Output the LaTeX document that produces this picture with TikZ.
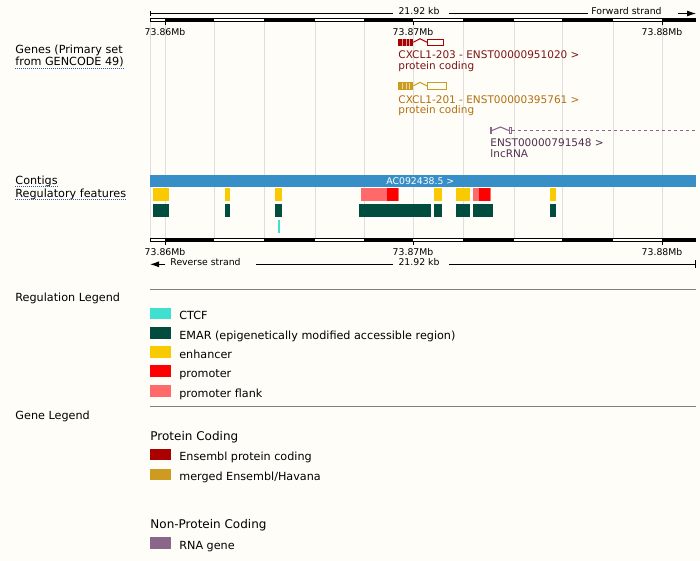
\documentclass[tikz,border=0pt]{standalone}
\usepackage{fontspec}
\setmainfont{DejaVu Sans}
\usetikzlibrary{positioning,arrows.meta}
\tikzset{>=latex}
\definecolor{bgcol}{RGB}{254,253,248}
\definecolor{gridcol}{RGB}{222,222,222}
\definecolor{ctcfcol}{RGB}{64,224,208}
\definecolor{emarcol}{RGB}{0,77,64}
\definecolor{enhcol}{RGB}{250,202,0}
\definecolor{promcol}{RGB}{255,0,0}
\definecolor{flankcol}{RGB}{255,105,105}
\definecolor{ensred}{RGB}{170,0,0}
\definecolor{ensredtxt}{RGB}{125,20,20}
\definecolor{havgold}{RGB}{205,155,32}
\definecolor{havgoldtxt}{RGB}{178,112,16}
\definecolor{rnapurple}{RGB}{139,102,139}
\definecolor{rnatxt}{RGB}{80,48,80}
\definecolor{contigblue}{RGB}{56,143,200}
\definecolor{legline}{RGB}{128,128,128}
\definecolor{ulcol}{RGB}{50,90,170}
\tikzset{
  lbl/.style={inner sep=0pt, anchor=base west, font=\fontsize{11.2}{13}\selectfont},
  trlbl/.style={inner sep=0pt, anchor=base west, font=\fontsize{10.5}{12}\selectfont},
  head/.style={inner sep=0pt, anchor=base west, font=\fontsize{12}{14}\selectfont},
  small/.style={inner sep=0pt, anchor=base, font=\fontsize{9.3}{11}\selectfont},
  swatch/.style={minimum width=21pt, minimum height=11.7pt, inner sep=0pt, anchor=north west},
  ulink/.style={draw=ulcol, line width=0.8pt, dash pattern=on 1pt off 1pt},
  tip/.style={-{Latex[length=9pt,width=6pt]}},
  exgap/.style={line width=0.6pt},
  glyph/.style={line width=1.1pt}
}

\begin{document}
\begin{tikzpicture}[x=1pt,y=-1pt,line width=0.9pt]
\fill[bgcol] (0,0) rectangle (700,561);
\useasboundingbox (0,0) rectangle (700,561);

\foreach \gx in {150,165,214,264,315,364,413,463,514,562,613,662}
  \draw[gridcol, line width=1pt] (\gx,21) -- (\gx,238);

\foreach \sy in {18,238} {
  \draw[black, fill=white] (150,\sy) rectangle (695,\sy+3.5);
  \foreach \sa/\sb in {165/214,264/315,364/413,463/514,562/613,662/695}
    \fill[black] (\sa,\sy) rectangle (\sb,\sy+3.5);
}

\coordinate (tl) at (150,13.5);
\draw (150,11.3) -- (150,16.5);
\node[small, inner xsep=5pt] (kbtop) at (419,14.5) {21.92 kb};
\node[small, anchor=base west, inner xsep=3pt] (fwd) at (588,14.5) {Forward strand};
\coordinate (fwdend) at (696,13.5);
\draw (tl) -- (kbtop.west |- tl);
\draw ([xshift=4pt]kbtop.east |- tl) -- (fwd.west |- tl);
\draw[tip] ([xshift=13pt]fwd.east |- tl) -- (fwdend);

\foreach \tx/\tl in {165/73.86Mb,413/73.87Mb,662/73.88Mb} {
  \draw (\tx,21.5) -- (\tx,25);
  \node[small] (top\tx) at (\tx,36) {\tl};
  \draw (\tx,241.5) -- (\tx,245);
  \node[small] (bot\tx) at (\tx,255.7) {\tl};
}

\coordinate (bl) at (150,264.3);
\coordinate (br) at (695,264.3);
\node[small, anchor=base west, inner xsep=5pt] (rev) at (165,265) {Reverse strand};
\node[small, inner xsep=5pt] (kbbot) at (419,265) {21.92 kb};
\draw[tip] (rev.west |- bl) -- (bl);
\draw ([xshift=10pt]rev.east |- bl) -- (kbbot.west |- bl);
\draw ([xshift=4pt]kbbot.east |- bl) -- (br);
\draw (695,260.3) -- (695,268.3);

\node[lbl] (genes1) at (15,53.5) {Genes (Primary set};
\node[lbl] (genes2) at (15,65.7) {from GENCODE 49)};
\draw[ulink] ([yshift=-2.6pt]genes2.base west) -- ([yshift=-2.6pt]genes2.base east);

\foreach \gy/\gc/\gb in {38.7/ensred/444,82.3/havgold/447} {
  \fill[\gc] (398,\gy) rectangle (413.3,\gy+7.5);
  \foreach \wx in {402.3,406.2,409.6}
    \fill[white!60!\gc] (\wx-0.3,\gy+0.6) rectangle (\wx+0.3,\gy+6.9);
  \fill[\gc] (413.3,\gy+3) -- (420,\gy-0.5) -- (427,\gy+3) -- (427,\gy+4.1) -- (420,\gy+0.6) -- (413.3,\gy+4.1) -- cycle;
  \fill[\gc] (427,\gy) rectangle (\gb,\gy+7.5);
  \fill[bgcol] (428.1,\gy+1.1) rectangle (\gb-1.1,\gy+6.4);
}
\node[trlbl, text=ensredtxt] (t203) at (398,58.5) {CXCL1-203 - ENST00000951020 >};
\node[trlbl, text=ensredtxt] (t203b) at (398,69.3) {protein coding};
\node[trlbl, text=havgoldtxt] (t201) at (398,103.3) {CXCL1-201 - ENST00000395761 >};
\node[trlbl, text=havgoldtxt] (t201b) at (398,113.5) {protein coding};

\fill[rnapurple] (490.3,126.7) rectangle (492.2,134);
\draw[glyph, color=rnapurple] (492,130.5) -- (500.5,127) -- (508.7,130.5);
\draw[glyph, color=rnapurple] (509.2,127.2) rectangle (511.8,133.8);
\draw[color=rnapurple, dash pattern=on 3pt off 3pt] (512,130.5) -- (696,130.5);
\node[trlbl, text=rnatxt] (t791) at (490,146.7) {ENST00000791548 >};
\node[trlbl, text=rnatxt] (t791b) at (490,157.7) {lncRNA};

\node[lbl] (contigs) at (15,184.3) {Contigs};
\draw[ulink] ([yshift=-2.4pt]contigs.base west) -- ([yshift=-2.4pt]contigs.base east);
\node[lbl] (regfeat) at (15,197.2) {Regulatory features};
\draw[ulink] ([yshift=-2.4pt]regfeat.base west) -- ([yshift=-2.4pt]regfeat.base east);
\fill[contigblue] (150,175) rectangle (696,187.3);
\node[small, anchor=base west, text=white] (ctg) at (386,184.3) {AC092438.5 >};

\foreach \fa/\fb/\fc in {153/169/enhcol,225/230/enhcol,275/282/enhcol,361/387/flankcol,387/398/promcol,398/399/flankcol,434/442/enhcol,456/470/enhcol,473/479/flankcol,479/490/promcol,490/491/flankcol,550/556/enhcol}
  \fill[\fc] (\fa,188) rectangle (\fb,200.7);
\foreach \fa/\fb in {153/169,225/230,275/282,359/431,434/442,456/470,473/493,550/556}
  \fill[emarcol] (\fa,204) rectangle (\fb,216.7);
\fill[ctcfcol] (278,220) rectangle (280,232.7);

\draw[legline] (150,289.3) -- (696,289.3);
\node[lbl] (reglegend) at (15,301.7) {Regulation Legend};
\node[swatch, fill=ctcfcol] (swctcf) at (150,307.3) {};
\node[lbl, right=7pt of swctcf.south east, anchor=base west] (lctcf) {CTCF};
\node[swatch, fill=emarcol] (swemar) at (150,326.7) {};
\node[lbl, right=7pt of swemar.south east, anchor=base west] (lemar) {EMAR (epigenetically modified accessible region)};
\node[swatch, fill=enhcol] (swenh) at (150,346) {};
\node[lbl, right=7pt of swenh.south east, anchor=base west] (lenh) {enhancer};
\node[swatch, fill=promcol] (swprom) at (150,365) {};
\node[lbl, right=7pt of swprom.south east, anchor=base west] (lprom) {promoter};
\node[swatch, fill=flankcol] (swflank) at (150,385) {};
\node[lbl, right=7pt of swflank.south east, anchor=base west] (lflank) {promoter flank};

\draw[legline] (150,406.7) -- (696,406.7);
\node[lbl] (genelegend) at (15,419) {Gene Legend};
\node[head] (pcoding) at (150,440) {Protein Coding};
\node[swatch, fill=ensred] (swens) at (150,448.3) {};
\node[lbl, right=7pt of swens.south east, anchor=base west] (lens) {Ensembl protein coding};
\node[swatch, fill=havgold] (swhav) at (150,468.3) {};
\node[lbl, right=7pt of swhav.south east, anchor=base west] (lhav) {merged Ensembl/Havana};
\node[head] (npcoding) at (150,528.3) {Non-Protein Coding};
\node[swatch, fill=rnapurple] (swrna) at (150,536.8) {};
\node[lbl, right=7pt of swrna.south east, anchor=base west] (lrna) {RNA gene};
\end{tikzpicture}
\end{document}
